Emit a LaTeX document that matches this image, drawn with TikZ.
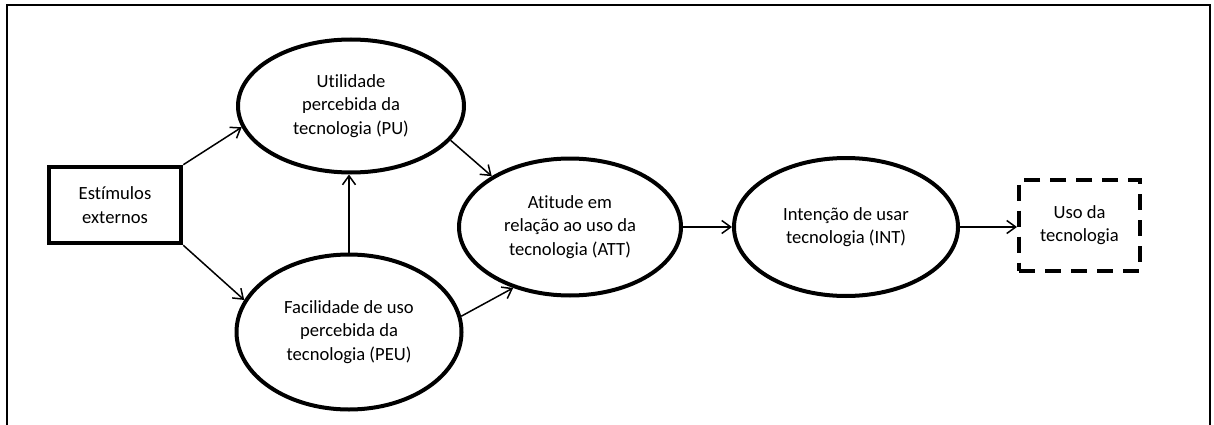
\documentclass[tikz,border=0pt]{standalone}
\usepackage{fontspec}
\setmainfont{Carlito}[Ligatures=NoCommon]
\usetikzlibrary{shapes.geometric,arrows.meta}
\begin{document}
\begin{tikzpicture}[x=1pt,y=-1pt,
  construct/.style={ellipse,draw,line width=4pt,inner sep=0pt,align=center,
    font=\fontsize{18.6}{23.5}\selectfont},
  stimbox/.style={rectangle,draw,line width=4.5pt,inner sep=0pt,align=center,
    font=\fontsize{18.6}{23.5}\selectfont},
  usebox/.style={rectangle,draw,line width=4pt,dash pattern=on 16pt off 10pt,
    inner sep=0pt,align=center,font=\fontsize{18.6}{23.5}\selectfont},
  link/.style={line width=1.5pt,-{Straight Barb[length=9pt,width=13pt,line width=1.5pt]}}]
  \useasboundingbox (0,0) rectangle (1214,425);
  % open frame
  \draw[line width=1.2pt] (7,425) -- (7,5) -- (1210,5) -- (1210,425);

  \node[stimbox,minimum width=132,minimum height=76] (est) at (115,205) {Estímulos\\externos};
  \node[construct,minimum width=226,minimum height=133] (pu) at (351,106)
    {Utilidade\\percebida da\\tecnologia (PU)};
  \node[construct,minimum width=225,minimum height=155] (peu) at (349,332)
    {Facilidade de uso\\percebida da\\tecnologia (PEU)};
  \node[construct,minimum width=222,minimum height=137] (att) at (570,227)
    {Atitude em\\relação ao uso da\\tecnologia (ATT)};
  \node[construct,minimum width=224,minimum height=138] (int) at (846,227)
    {Intenção de usar\\tecnologia (INT)};
  \node[usebox,minimum width=121,minimum height=91] (uso) at (1079.5,225)
    {Uso da\\tecnologia};

  \draw[link] (est.north east) -- (pu.191);
  \draw[link] (est.south east) -- (peu.163);
  \draw[link] (peu.north) -- (peu.north |- pu.south);
  \draw[link] (pu.-19) -- (att.147);
  \draw[link] (peu.8) -- (att.227);
  \draw[link] (att.east) -- (int.west);
  \draw[link] (int.east) -- (int.east -| uso.west);
\end{tikzpicture}
\end{document}
